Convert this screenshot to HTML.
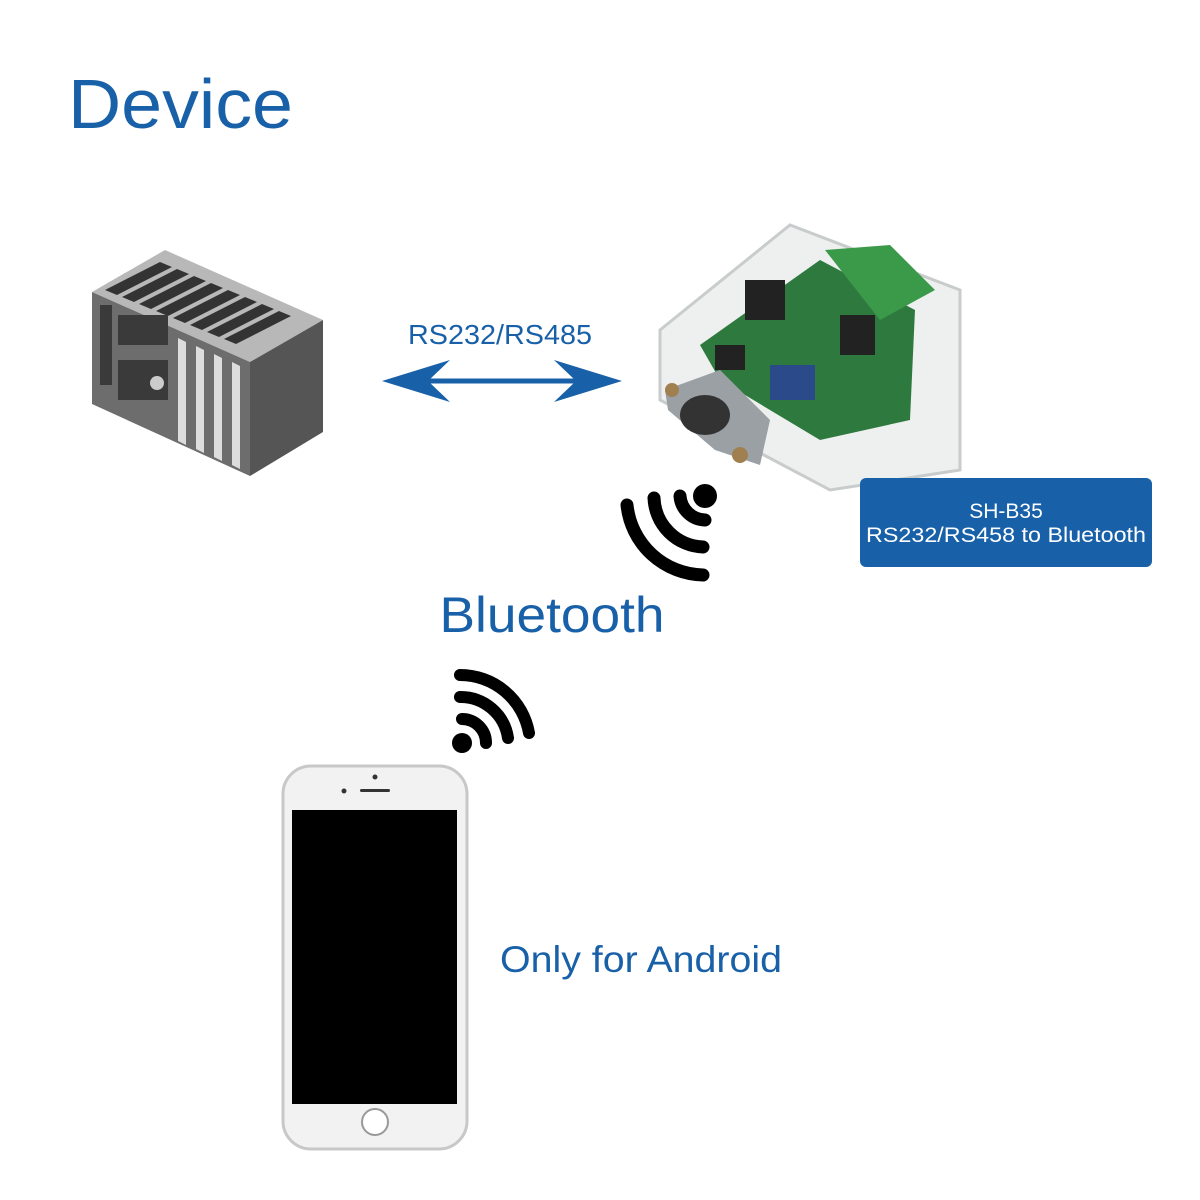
<!DOCTYPE html>
<html><head><meta charset="utf-8"><style>
html,body{margin:0;padding:0;background:#fff}
svg{display:block}
text{font-family:"Liberation Sans",sans-serif}
</style></head><body>
<svg width="1200" height="1200" viewBox="0 0 1200 1200" xmlns="http://www.w3.org/2000/svg">
<rect width="1200" height="1200" fill="#fff"/>
<text x="68" y="128" font-size="70" fill="#1860a8" textLength="225" lengthAdjust="spacingAndGlyphs">Device</text>

<!-- PLC -->
<polygon points="92,292 165,250 323,320 250,362" fill="#b8b8b8"/>
<polygon points="92,292 250,362 250,476 92,404" fill="#6d6d6d"/>
<polygon points="250,362 323,320 323,432 250,476" fill="#555"/>
<g fill="#333">
<polygon points="105,290 160,262 172,267 117,295"/>
<polygon points="122,297 177,269 189,274 134,302"/>
<polygon points="139,304 194,276 206,281 151,309"/>
<polygon points="156,311 211,283 223,288 168,316"/>
<polygon points="173,318 228,290 240,295 185,323"/>
<polygon points="190,325 245,297 257,302 202,330"/>
<polygon points="207,332 262,304 274,309 219,337"/>
<polygon points="224,339 279,311 291,316 236,344"/>
</g>
<g fill="#3a3a3a">
<rect x="100" y="305" width="12" height="80"/>
<rect x="118" y="315" width="50" height="30"/>
<rect x="118" y="360" width="50" height="40"/>
</g>
<g fill="#ddd">
<polygon points="178,338 186,342 186,445 178,441"/>
<polygon points="196,346 204,350 204,453 196,449"/>
<polygon points="214,354 222,358 222,461 214,457"/>
<polygon points="232,362 240,366 240,469 232,465"/>
</g>
<circle cx="157" cy="383" r="7" fill="#ccc"/>

<!-- arrow -->
<text x="500" y="344" font-size="28" fill="#1860a8" text-anchor="middle" textLength="184" lengthAdjust="spacingAndGlyphs">RS232/RS485</text>
<line x1="410" y1="381" x2="595" y2="381" stroke="#1860a8" stroke-width="5"/>
<polygon points="382,381 450,360 428,381 450,402" fill="#1860a8"/>
<polygon points="622,381 554,360 576,381 554,402" fill="#1860a8"/>

<!-- device -->
<polygon points="660,330 790,225 960,290 960,470 830,490 660,400" fill="#eef0f0" stroke="#c8cccc" stroke-width="3"/>
<polygon points="700,345 820,260 915,310 910,420 820,440 720,380" fill="#2e7a3e"/>
<polygon points="825,250 890,245 935,290 880,320" fill="#3a9a4a"/>
<g fill="#222"><rect x="840" y="315" width="35" height="40"/><rect x="745" y="280" width="40" height="40"/><rect x="715" y="345" width="30" height="25"/></g>
<rect x="770" y="365" width="45" height="35" fill="#2a4a8a"/>
<polygon points="665,390 720,370 770,420 760,465 715,450 668,410" fill="#9aa0a4"/>
<ellipse cx="705" cy="415" rx="25" ry="20" fill="#333"/>
<circle cx="740" cy="455" r="8" fill="#a08050"/>
<circle cx="672" cy="390" r="7" fill="#a08050"/>

<rect x="860" y="478" width="292" height="89" rx="6" fill="#1860a8"/>
<text x="1006" y="518" font-size="21" fill="#fff" text-anchor="middle">SH-B35</text>
<text x="1006" y="542" font-size="21" fill="#fff" text-anchor="middle" textLength="280" lengthAdjust="spacingAndGlyphs">RS232/RS458 to Bluetooth</text>

<!-- signal 1 -->
<circle cx="705" cy="496" r="12" fill="#000"/>
<g fill="none" stroke="#000" stroke-width="13" stroke-linecap="round">
<path d="M705,520 A26,26 0 0 1 680,496"/>
<path d="M703,547 A51,51 0 0 1 654,498"/>
<path d="M703,575 A78,78 0 0 1 627,505"/>
</g>
<text x="552" y="632" font-size="50" fill="#1860a8" text-anchor="middle" textLength="225" lengthAdjust="spacingAndGlyphs">Bluetooth</text>

<!-- signal 2 -->
<circle cx="462" cy="743" r="10" fill="#000"/>
<g fill="none" stroke="#000" stroke-width="12" stroke-linecap="round">
<path d="M462,719 A24,24 0 0 1 486,743"/>
<path d="M460,697 A48,48 0 0 1 508,738"/>
<path d="M460,675 A70,70 0 0 1 529,733"/>
</g>

<!-- phone -->
<rect x="283" y="766" width="184" height="383" rx="28" fill="#f2f2f2" stroke="#c8c8c8" stroke-width="3"/>
<rect x="292" y="810" width="165" height="294" fill="#000"/>
<circle cx="375" cy="777" r="2.5" fill="#333"/>
<circle cx="344" cy="791" r="2.5" fill="#333"/>
<rect x="360" y="789" width="30" height="3" rx="1.5" fill="#333"/>
<circle cx="375" cy="1122" r="13" fill="#fff" stroke="#999" stroke-width="2"/>

<text x="641" y="972" font-size="37" fill="#1860a8" text-anchor="middle" textLength="282" lengthAdjust="spacingAndGlyphs">Only for Android</text>
</svg>
</body></html>
